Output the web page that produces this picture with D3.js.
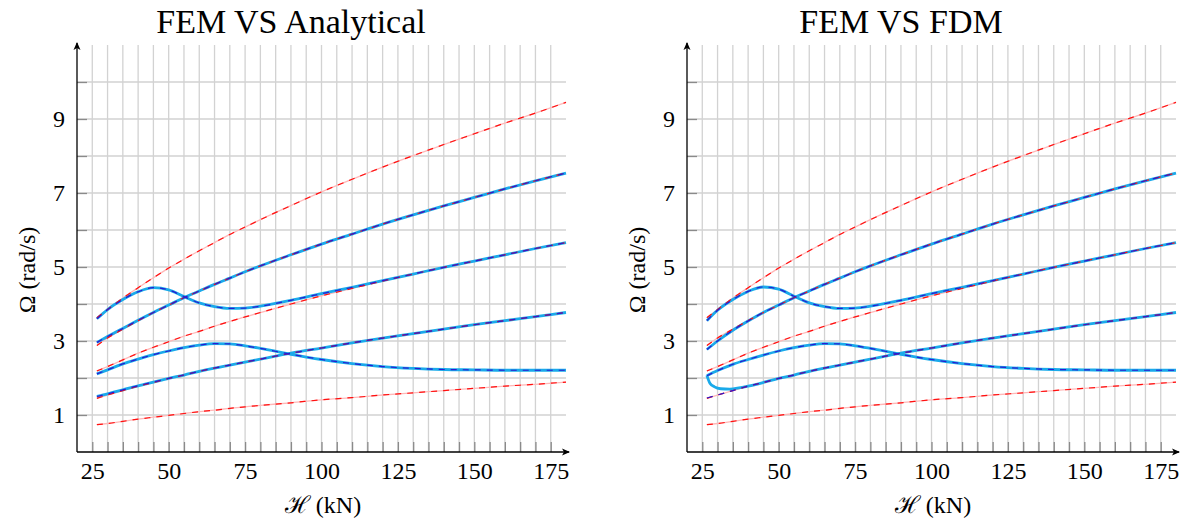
<!DOCTYPE html>
<html><head><meta charset="utf-8">
<script src="https://cdn.jsdelivr.net/npm/d3@7"></script>
<style>body{margin:0;background:#fff} svg{display:block}</style>
</head><body>
<svg id="chart" width="1187" height="524"></svg>
<script>
// ---- data ----
const H = [26.5, 30, 35, 40, 45, 50, 55, 60, 65, 70, 75, 80, 90, 100, 110, 120, 130, 140, 150, 160, 170, 180];
// analytical (red dashed)
const A1 = [0.74, 0.77, 0.83, 0.89, 0.94, 0.99, 1.04, 1.09, 1.13, 1.18, 1.22, 1.26, 1.33, 1.41, 1.47, 1.54, 1.60, 1.66, 1.72, 1.78, 1.83, 1.89];
const A2 = [1.45, 1.54, 1.66, 1.78, 1.88, 1.99, 2.08, 2.18, 2.27, 2.35, 2.43, 2.51, 2.67, 2.81, 2.95, 3.08, 3.20, 3.32, 3.44, 3.55, 3.66, 3.77];
const A3 = [2.19, 2.31, 2.49, 2.67, 2.83, 2.98, 3.13, 3.26, 3.40, 3.53, 3.65, 3.77, 4.00, 4.22, 4.42, 4.62, 4.81, 4.99, 5.16, 5.33, 5.50, 5.66];
const A4 = [2.88, 3.08, 3.32, 3.55, 3.77, 3.97, 4.17, 4.35, 4.53, 4.70, 4.87, 5.03, 5.33, 5.62, 5.89, 6.16, 6.41, 6.65, 6.88, 7.11, 7.33, 7.54];
const A5 = [3.63, 3.85, 4.16, 4.44, 4.71, 4.97, 5.21, 5.44, 5.66, 5.88, 6.08, 6.28, 6.66, 7.03, 7.37, 7.70, 8.01, 8.31, 8.60, 8.89, 9.16, 9.45];
// left panel FEM (cyan solid + blue dashed)
const LF1 = [1.50, 1.57, 1.68, 1.79, 1.89, 1.99, 2.08, 2.18, 2.27, 2.35, 2.43, 2.51, 2.67, 2.81, 2.95, 3.08, 3.20, 3.32, 3.44, 3.55, 3.66, 3.77];
const LF2 = [2.11, 2.22, 2.38, 2.51, 2.63, 2.73, 2.82, 2.89, 2.93, 2.92, 2.87, 2.80, 2.64, 2.50, 2.39, 2.31, 2.26, 2.23, 2.22, 2.21, 2.21, 2.21];
const LF3 = [2.96, 3.12, 3.34, 3.56, 3.77, 3.97, 4.17, 4.35, 4.53, 4.70, 4.87, 5.03, 5.33, 5.62, 5.89, 6.16, 6.41, 6.65, 6.88, 7.11, 7.33, 7.54];
const LF4 = [3.60, 3.85, 4.12, 4.33, 4.44, 4.38, 4.20, 4.03, 3.93, 3.88, 3.89, 3.94, 4.10, 4.28, 4.45, 4.63, 4.81, 4.99, 5.16, 5.33, 5.50, 5.66];
// right panel FEM (cyan solid)
const H_dip = [26.5, 27.5, 29, 31, 34, 37, 40, 45, 50, 55, 60, 65, 70, 75, 80, 90, 100, 110, 120, 130, 140, 150, 160, 170, 180];
const RC1 = [2.07, 1.86, 1.76, 1.71, 1.70, 1.73, 1.78, 1.88, 1.99, 2.08, 2.18, 2.27, 2.35, 2.43, 2.51, 2.67, 2.81, 2.95, 3.08, 3.20, 3.32, 3.44, 3.55, 3.66, 3.77];
const RC2 = [2.06, 2.20, 2.37, 2.50, 2.62, 2.73, 2.82, 2.89, 2.93, 2.92, 2.87, 2.80, 2.64, 2.50, 2.39, 2.31, 2.26, 2.23, 2.22, 2.21, 2.21, 2.21];
const RC3 = [2.77, 3.00, 3.29, 3.54, 3.77, 3.97, 4.17, 4.35, 4.53, 4.70, 4.87, 5.03, 5.33, 5.62, 5.89, 6.16, 6.41, 6.65, 6.88, 7.11, 7.33, 7.54];
const RC4 = [3.55, 3.83, 4.12, 4.34, 4.46, 4.40, 4.21, 4.03, 3.93, 3.88, 3.89, 3.94, 4.10, 4.28, 4.45, 4.63, 4.81, 4.99, 5.16, 5.33, 5.50, 5.66];
// right panel FDM (blue dashed)
const RB1 = [1.46, 1.54, 1.66, 1.78, 1.88, 1.99, 2.08, 2.18, 2.27, 2.35, 2.43, 2.51, 2.67, 2.81, 2.95, 3.08, 3.20, 3.32, 3.44, 3.55, 3.66, 3.77];

const xTickVals = [25,30,35,40,45,50,55,60,65,70,75,80,85,90,95,100,105,110,115,120,125,130,135,140,145,150,155,160,165,170,175];
const xTickLabels = [25, 50, 75, 100, 125, 150, 175];
const yTickVals = [1,2,3,4,5,6,7,8,9,10];
const yTickLabels = [1, 3, 5, 7, 9];
const titles = ["FEM VS Analytical", "FEM VS FDM"];
const xLabel = "\u210B (kN)";
const yLabel = "\u03A9 (rad/s)";

// ---- drawing ----
const svg = d3.select("#chart");
const FONT = '"Liberation Serif"';
const COL = {red:"#ff1010", pink:"#ffb8b8", cyan:"#1aaaea", blue:"#2a1ad0", grid:"#d2d2d2", tick:"#8a8a8a"};

function zip(xs, ys){ return xs.map((v,i)=>[v, ys[i]]); }

function panel(ox, title, cyanSeries, blueSeries){
  const x = d3.scaleLinear().domain([20,180]).range([ox, ox+489]);
  const y = d3.scaleLinear().domain([0,11]).range([452,45]);
  const g = svg.append("g");

  // grid
  g.append("g").selectAll("line").data(xTickVals).enter().append("line")
    .attr("x1",d=>x(d)).attr("x2",d=>x(d)).attr("y1",y(0)).attr("y2",y(11))
    .attr("stroke",COL.grid).attr("stroke-width",1.3);
  g.append("g").selectAll("line").data(yTickVals).enter().append("line")
    .attr("x1",x(20)).attr("x2",x(180)).attr("y1",d=>y(d)).attr("y2",d=>y(d))
    .attr("stroke",COL.grid).attr("stroke-width",1.3);

  // axes via d3
  const xa = g.append("g").attr("transform",`translate(0,${y(0)})`)
    .call(d3.axisBottom(x).tickValues(xTickVals).tickSize(-10).tickPadding(10)
      .tickFormat(d=> xTickLabels.includes(d) ? String(d) : ""));
  const ya = g.append("g").attr("transform",`translate(${x(20)},0)`)
    .call(d3.axisLeft(y).tickValues(yTickVals).tickSize(-10).tickPadding(12)
      .tickFormat(d=> yTickLabels.includes(d) ? String(d) : ""));
  [xa,ya].forEach(a=>{
    a.attr("font-family",null).attr("font-size",null);
    a.select(".domain").remove();
    a.selectAll(".tick line").attr("stroke",COL.tick).attr("stroke-width",1.3);
    a.selectAll(".tick text").style("font-family",FONT).style("font-size","24px").attr("fill","#000");
  });

  // axis lines with arrows
  g.append("line").attr("x1",x(20)).attr("x2",x(180)+3).attr("y1",y(0)).attr("y2",y(0))
    .attr("stroke","#000").attr("stroke-width",1.3);
  g.append("line").attr("x1",x(20)).attr("x2",x(20)).attr("y1",y(0)).attr("y2",y(11)-2)
    .attr("stroke","#000").attr("stroke-width",1.3);
  const ax = x(180)+4, ay = y(0);
  g.append("path").attr("d",`M${ax},${ay} L${ax-8},${ay-3.5} L${ax-6},${ay} L${ax-8},${ay+3.5} Z`).attr("fill","#000");
  const bx = x(20), by = y(11)-3;
  g.append("path").attr("d",`M${bx},${by} L${bx-3.5},${by+8} L${bx},${by+6} L${bx+3.5},${by+8} Z`).attr("fill","#000");

  const line = d3.line().x(d=>x(d[0])).y(d=>y(d[1])).curve(d3.curveMonotoneX);
  const analytic = [A1,A2,A3,A4,A5];

  // pink underlay
  analytic.forEach(s=> g.append("path").attr("d",line(zip(H,s))).attr("fill","none")
    .attr("stroke",COL.pink).attr("stroke-width",1.3));
  // cyan solid
  cyanSeries.forEach(s=> g.append("path").attr("d",line(zip(s[0],s[1]))).attr("fill","none")
    .attr("stroke",COL.cyan).attr("stroke-width",2.8));
  // red dashed
  analytic.forEach(s=> g.append("path").attr("d",line(zip(H,s))).attr("fill","none")
    .attr("stroke",COL.red).attr("stroke-width",1.2).attr("stroke-dasharray","6,6"));
  // blue dashed
  blueSeries.forEach(s=> g.append("path").attr("d",line(zip(s[0],s[1]))).attr("fill","none")
    .attr("stroke",COL.blue).attr("stroke-width",1.2).attr("stroke-dasharray","6,6"));

  // texts
  g.append("text").attr("x",ox+214).attr("y",33).attr("text-anchor","middle")
    .style("font-family",FONT).style("font-size","34px").text(title);
  g.append("text").attr("x",ox+246).attr("y",513).attr("text-anchor","middle")
    .style("font-family",FONT).style("font-size","24px").text(xLabel);
  g.append("text").attr("transform",`translate(${ox-42},270) rotate(-90)`).attr("text-anchor","middle")
    .style("font-family",FONT).style("font-size","24px").text(yLabel);
}

panel(77, titles[0],
  [[H,LF1],[H,LF2],[H,LF3],[H,LF4]],
  [[H,LF1],[H,LF2],[H,LF3],[H,LF4]]);
panel(687, titles[1],
  [[H_dip,RC1],[H,RC2],[H,RC3],[H,RC4]],
  [[H,RB1],[H,RC2],[H,RC3],[H,RC4]]);
</script>
</body></html>
